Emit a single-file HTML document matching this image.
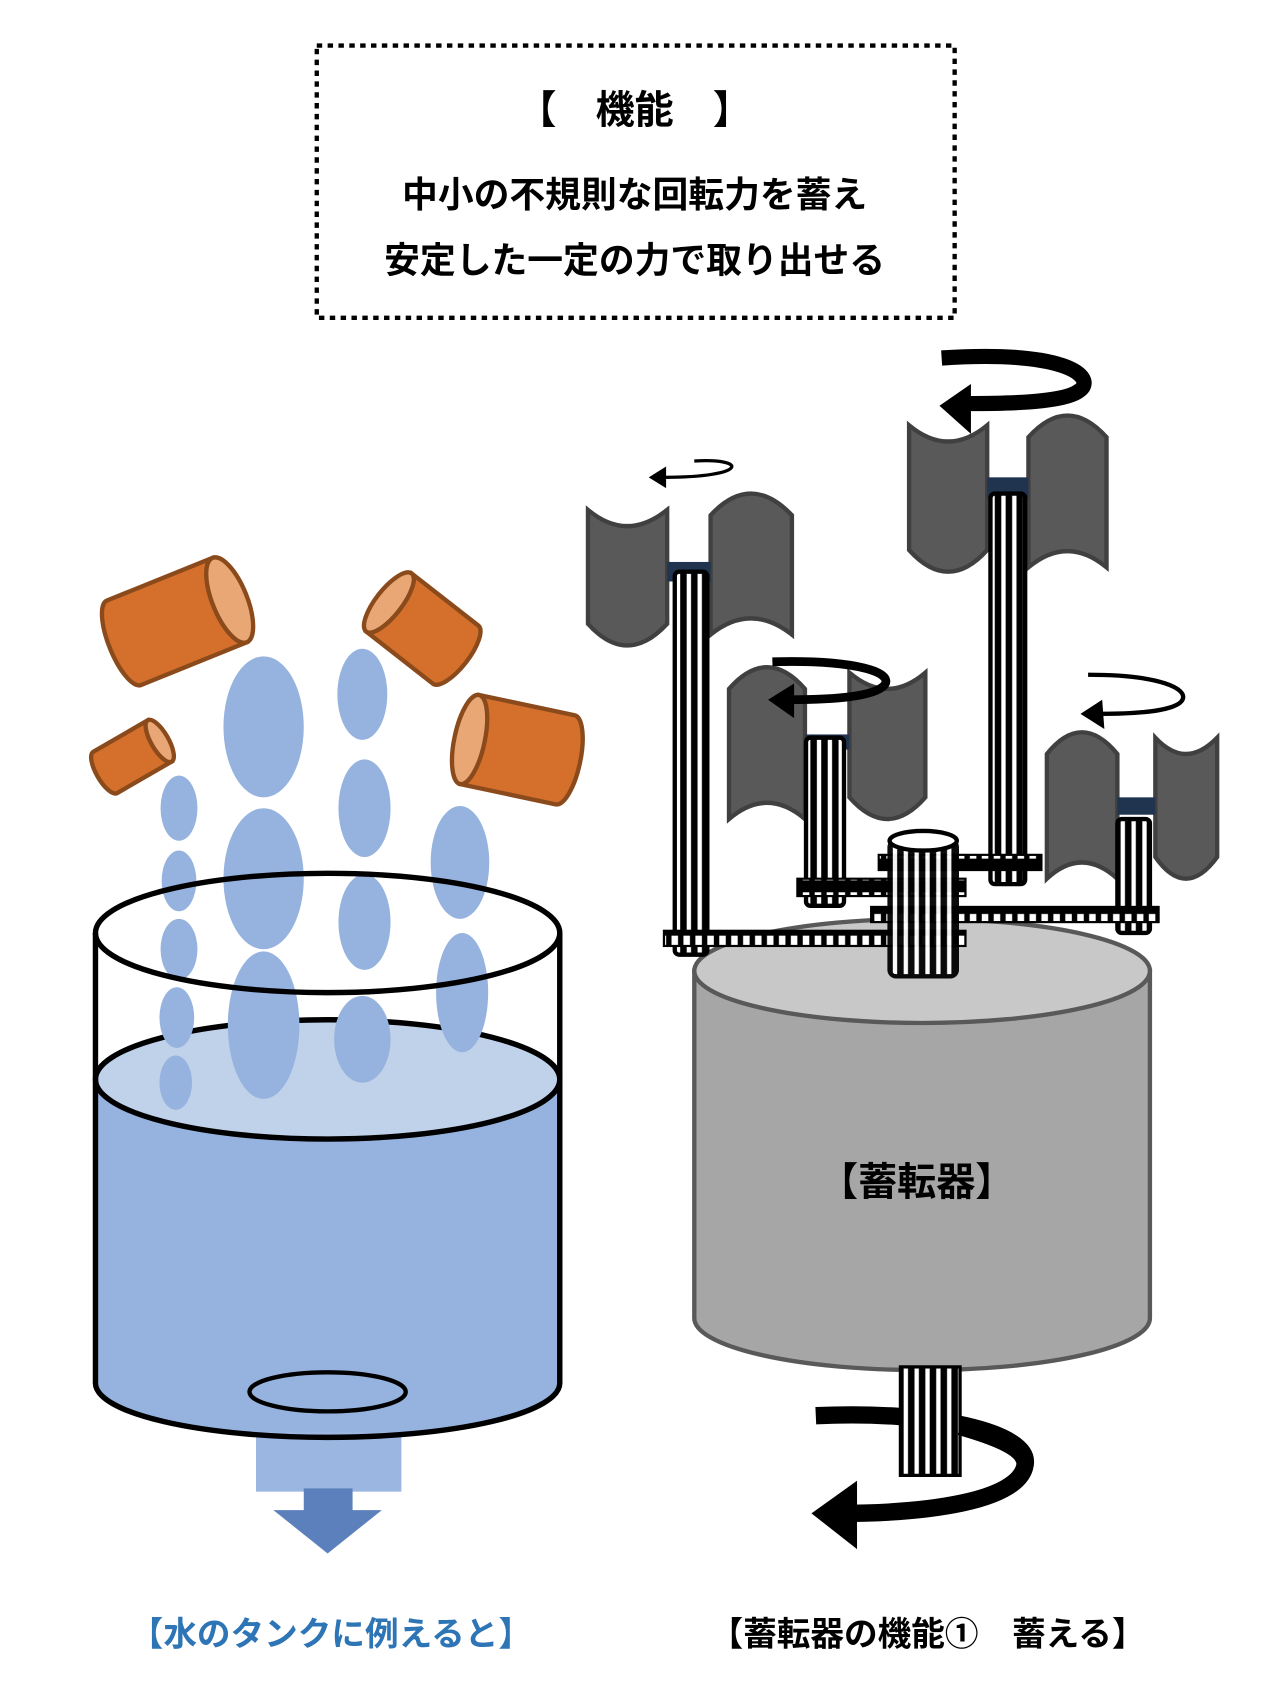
<!DOCTYPE html>
<html><head><meta charset="utf-8"><style>html,body{margin:0;padding:0;background:#fff}svg{display:block}</style></head><body>
<svg width="1266" height="1688" viewBox="0 0 1167 1556" xmlns="http://www.w3.org/2000/svg" font-family="'Liberation Sans','Noto Sans CJK JP',sans-serif" font-weight="bold">
<defs>
<pattern id="st" width="10" height="10" patternUnits="userSpaceOnUse"><rect width="10" height="10" fill="#000"/><rect x="3" width="4" height="10" fill="#fff"/></pattern>
<pattern id="gr" width="11" height="20" patternUnits="userSpaceOnUse"><rect width="11" height="20" fill="#000"/><rect x="3" y="2.5" width="6" height="9" fill="#fff"/></pattern>
</defs>
<rect x="292" y="42" width="588" height="251" fill="none" stroke="#000" stroke-width="4" stroke-dasharray="5,5"/>
<text x="585" y="114" font-size="36" text-anchor="middle">【　機能　】</text>
<text x="585" y="191" font-size="33" text-anchor="middle">中小の不規則な回転力を蓄え</text>
<text x="585" y="251" font-size="33" text-anchor="middle">安定した一定の力で取り出せる</text>

<!-- tank -->
<path d="M88 995 V1275 A214 50 0 0 0 516 1275 V995 Z" fill="#95b3de"/>
<ellipse cx="302" cy="995" rx="214" ry="55" fill="#c0d1ea"/>
<path d="M88 995 A214 55 0 0 0 516 995" fill="none" stroke="#000" stroke-width="5"/>
<path d="M88 995 A214 55 0 0 1 516 995" fill="none" stroke="#000" stroke-width="5"/>
<rect x="236" y="1320" width="134" height="55" fill="#9bb6e0"/>
<rect x="280" y="1372" width="45" height="22" fill="#5b80bb"/>
<polygon points="252,1392 352,1392 302,1432" fill="#5b80bb"/>
<path d="M88 860 V1275 A214 50 0 0 0 516 1275 V860" fill="none" stroke="#000" stroke-width="5"/>
<ellipse cx="302" cy="1283" rx="72" ry="18" fill="none" stroke="#000" stroke-width="4"/>
<g fill="#95b3de">
<ellipse cx="243" cy="670" rx="37" ry="65"/><ellipse cx="243" cy="810" rx="37" ry="65"/><ellipse cx="243" cy="945" rx="33" ry="68"/>
<ellipse cx="334" cy="640" rx="23" ry="42"/><ellipse cx="336" cy="745" rx="24" ry="45"/><ellipse cx="336" cy="850" rx="24" ry="44"/><ellipse cx="334" cy="958" rx="26" ry="40"/>
<ellipse cx="165" cy="745" rx="17" ry="30"/><ellipse cx="165" cy="812" rx="16" ry="28"/><ellipse cx="165" cy="875" rx="17" ry="28"/><ellipse cx="163" cy="938" rx="16" ry="28"/><ellipse cx="162" cy="998" rx="15" ry="25"/>
<ellipse cx="424" cy="795" rx="27" ry="52"/><ellipse cx="426" cy="915" rx="24" ry="55"/>
</g>
<ellipse cx="302" cy="860" rx="214" ry="55" fill="none" stroke="#000" stroke-width="5"/>
<!-- cups -->
<g stroke="#8a4a1b" stroke-width="4">
<g transform="translate(170,570) rotate(-22)"><path d="M-60 -42 H45 V42 H-60 A14 42 0 0 1 -60 -42Z" fill="#d4702c"/><ellipse cx="45" cy="0" rx="16" ry="42" fill="#e8a774"/></g>
<g transform="translate(390,580) rotate(38)"><path d="M-40 -34 H38 A12 34 0 0 1 38 34 H-40Z" fill="#d4702c"/><ellipse cx="-40" cy="0" rx="12" ry="34" fill="#e8a774"/></g>
<g transform="translate(123,697) rotate(-30)"><path d="M-30 -22 H28 V22 H-30 A8 22 0 0 1 -30 -22Z" fill="#d4702c"/><ellipse cx="28" cy="0" rx="8" ry="22" fill="#e8a774"/></g>
<g transform="translate(472,690) rotate(12)"><path d="M-40 -42 H50 A14 42 0 0 1 50 42 H-40Z" fill="#d4702c"/><ellipse cx="-40" cy="0" rx="14" ry="42" fill="#e8a774"/></g>
</g>

<!-- accumulator -->
<path d="M640 895 V1215 A210 48 0 0 0 1060 1215 V895 Z" fill="#a6a6a6" stroke="#595959" stroke-width="4"/>
<ellipse cx="850" cy="895" rx="210" ry="48" fill="#c8c8c8" stroke="#595959" stroke-width="4"/>
<text x="845" y="1102" font-size="36" text-anchor="middle">【蓄転器】</text>
<!-- output shaft & arrow -->
<path d="M752 1305 C860 1300 950 1320 945 1350 C940 1385 850 1395 775 1395" fill="none" stroke="#000" stroke-width="16"/>
<rect x="830" y="1260" width="55" height="100" fill="url(#st)" stroke="#000" stroke-width="3"/>
<path d="M885 1315 C920 1325 945 1335 945 1350" fill="none" stroke="#000" stroke-width="16"/>
<polygon points="748,1395 790,1365 790,1428" fill="#000"/>

<!-- rotor blades -->
<g fill="#595959" stroke="#404040" stroke-width="4">
<path d="M542 470 Q578 500 615 470 V575 Q578 615 542 575Z"/>
<path d="M655 475 Q692 435 730 475 V585 Q692 555 655 585Z"/>
<path d="M838 392 Q874 422 910 392 V507 Q874 547 838 507Z"/>
<path d="M948 403 Q984 363 1020 403 V523 Q984 493 948 523Z"/>
<path d="M672 635 Q707 595 742 635 V755 Q707 725 672 755Z"/>
<path d="M783 620 Q818 650 853 620 V735 Q818 775 783 735Z"/>
<path d="M965 695 Q997 655 1030 695 V810 Q997 780 965 810Z"/>
<path d="M1065 680 Q1093 710 1122 680 V790 Q1093 830 1065 790Z"/>
</g>
<g fill="#203450"><rect x="615" y="518" width="40" height="18"/><rect x="910" y="440" width="38" height="20"/><rect x="742" y="677" width="41" height="14"/><rect x="1030" y="735" width="35" height="16"/></g>
<!-- shafts -->
<g stroke="#000" stroke-width="4">
<rect x="622" y="527" width="30" height="353" rx="4" fill="url(#st)"/>
<rect x="913" y="455" width="32" height="360" rx="4" fill="url(#st)"/>
<rect x="743" y="680" width="35" height="155" rx="4" fill="url(#st)"/>
<rect x="1030" y="755" width="30" height="105" rx="4" fill="url(#st)"/>
</g>
<!-- gears and center -->
<g stroke="#000" stroke-width="2">
<rect x="612" y="858" width="278" height="14" fill="url(#gr)"/>
<rect x="735" y="810" width="155" height="16" fill="url(#gr)"/>
<rect x="810" y="788" width="150" height="14" fill="url(#gr)"/>
<rect x="803" y="836" width="265" height="14" fill="url(#gr)"/>
</g>
<rect x="820" y="775" width="62" height="125" rx="6" fill="url(#st)" stroke="#000" stroke-width="4" opacity="0.95"/>
<ellipse cx="851" cy="775" rx="31" ry="9" fill="#fff" stroke="#000" stroke-width="4"/>

<!-- rotation arrows -->
<g fill="none" stroke="#000">
<path d="M640 425 C690 422 690 440 612 440" stroke-width="3"/>
<path d="M868 330 C990 322 1010 350 995 360 C980 372 920 372 890 372" stroke-width="14"/>
<path d="M712 610 C790 608 825 620 815 632 C805 642 770 645 728 645" stroke-width="8"/>
<path d="M1003 622 C1070 622 1095 635 1090 645 C1085 655 1050 658 1015 658" stroke-width="4"/>
</g>
<g fill="#000">
<polygon points="598,440 614,430 614,450"/>
<polygon points="866,374 895,354 895,400"/>
<polygon points="708,645 732,630 732,662"/>
<polygon points="996,658 1016,645 1018,672"/>
</g>

<text x="305" y="1517" font-size="31" text-anchor="middle" fill="#2e75b6">【水のタンクに例えると】</text>
<text x="855" y="1517" font-size="31" text-anchor="middle">【蓄転器の機能①　蓄える】</text>
</svg>
</body></html>
